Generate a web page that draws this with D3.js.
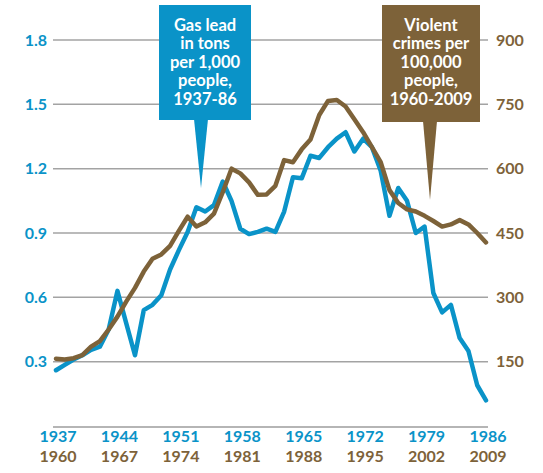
<!DOCTYPE html>
<html>
<head>
<meta charset="utf-8">
<script src="https://cdn.jsdelivr.net/npm/d3@7"></script>
<style>
  body { margin: 0; background: #fff; }
  svg { display: block; }
  text { font-family: Lato, "Open Sans", sans-serif; font-weight: bold; }
</style>
</head>
<body>
<svg></svg>
<script>
const wSvg = 543, hSvg = 473;

// gas lead, tons per 1,000 people, 1937-86
const leadYears = d3.range(1937, 1987);
const leadValues = [
    0.26, 0.285, 0.31, 0.33, 0.355, 0.37, 0.45, 0.63, 0.48, 0.33,
    0.54, 0.565, 0.61, 0.73, 0.82, 0.905, 1.02, 1.0, 1.03, 1.14,
    1.05, 0.92, 0.895, 0.905, 0.92, 0.905, 1.0, 1.16, 1.155, 1.26,
    1.25, 1.30, 1.34, 1.37, 1.28, 1.34, 1.30, 1.19, 0.98, 1.11,
    1.05, 0.90, 0.93, 0.62, 0.53, 0.565, 0.41, 0.35, 0.19, 0.12
];

// violent crimes per 100,000 people, 1960-2009
const crimeYears = d3.range(1960, 2010);
const crimeValues = [
    157, 155, 158, 165, 185, 198, 225, 255, 290, 322,
    360, 390, 400, 420, 455, 488, 465, 475, 495, 545,
    600, 589, 568, 539, 540, 560, 620, 615, 645, 668,
    725, 758, 760, 745, 715, 685, 650, 615, 550, 520,
    505, 500, 490, 478, 465, 470, 480, 470, 450, 428
];

const leadTicks = [0.3, 0.6, 0.9, 1.2, 1.5, 1.8];
const crimeTicks = [150, 300, 450, 600, 750, 900];
const leadYearTicks = [1937, 1944, 1951, 1958, 1965, 1972, 1979, 1986];
const crimeYearTicks = [1960, 1967, 1974, 1981, 1988, 1995, 2002, 2009];

const leadLabel = ["Gas lead", "in tons", "per 1,000", "people,", "1937-86"];
const crimeLabel = ["Violent", "crimes per", "100,000", "people,", "1960-2009"];

const blue = "#0a93c8", brown = "#7d6239", grid = "#a3a3a3";

const svg = d3.select("svg")
    .attr("width", wSvg)
    .attr("height", hSvg)
;

const xLead = d3.scaleLinear().domain([1937, 1986]).range([56, 486]);
const xCrime = d3.scaleLinear().domain([1960, 2009]).range([56, 486]);
const yLead = d3.scaleLinear().domain([0, 1.8]).range([426, 40]);
const yCrime = d3.scaleLinear().domain([0, 900]).range([426, 40]);

const gridLeft = 53, gridRight = 488;

// gridlines
svg.append("g")
    .selectAll("line")
    .data(leadTicks)
    .enter()
    .append("line")
    .attr("x1", gridLeft)
    .attr("x2", gridRight)
    .attr("y1", d => yLead(d))
    .attr("y2", d => yLead(d))
    .attr("stroke", grid)
    .attr("stroke-width", 1.5)
;

// bottom base line
svg.append("line")
    .attr("x1", gridLeft)
    .attr("x2", gridRight)
    .attr("y1", yLead(0) + 1)
    .attr("y2", yLead(0) + 1)
    .attr("stroke", "#b5b5b5")
    .attr("stroke-width", 2)
;

function styleText(sel, color) {
    sel.selectAll("text")
        .attr("fill", color)
        .attr("font-size", 16)
        .attr("font-family", "Lato, sans-serif")
        .attr("font-weight", "bold");
}

// left axis
const leftAxis = svg.append("g")
    .attr("transform", "translate(47,0)")
    .call(d3.axisLeft(yLead).tickValues(leadTicks).tickSize(0).tickPadding(0).tickFormat(d3.format(".1f")));
leftAxis.select(".domain").remove();
styleText(leftAxis, blue);

// right axis
const rightAxis = svg.append("g")
    .attr("transform", "translate(496,0)")
    .call(d3.axisRight(yCrime).tickValues(crimeTicks).tickSize(0).tickPadding(0));
rightAxis.select(".domain").remove();
styleText(rightAxis, brown);

// bottom axes (two rows of years)
const bottomLead = svg.append("g")
    .attr("transform", "translate(1.5,431)")
    .call(d3.axisBottom(xLead).tickValues(leadYearTicks).tickSize(0).tickPadding(0).tickFormat(d3.format("d")));
bottomLead.select(".domain").remove();
styleText(bottomLead, blue);

const bottomCrime = svg.append("g")
    .attr("transform", "translate(1.5,451)")
    .call(d3.axisBottom(xCrime).tickValues(crimeYearTicks).tickSize(0).tickPadding(0).tickFormat(d3.format("d")));
bottomCrime.select(".domain").remove();
styleText(bottomCrime, brown);

// callouts
function callout(lines, color, x0, x1, top, bottom, tipX, tipY) {
    const g = svg.append("g");
    g.append("rect")
        .attr("x", x0).attr("y", top)
        .attr("width", x1 - x0).attr("height", bottom - top)
        .attr("fill", color);
    g.append("path")
        .attr("d", `M${tipX - 7},${bottom - 1} L${tipX + 7},${bottom - 1} L${tipX},${tipY} Z`)
        .attr("fill", color);
    g.selectAll("text")
        .data(lines)
        .enter()
        .append("text")
        .attr("x", (x0 + x1) / 2)
        .attr("y", (d, i) => top + 20 + i * 18.5)
        .attr("dy", "0.35em")
        .attr("text-anchor", "middle")
        .attr("fill", "#fff")
        .attr("font-size", 16.5)
        .text(d => d);
}

callout(leadLabel, blue, 159, 251, 5, 120, 201, 188);
callout(crimeLabel, brown, 382, 480, 5, 122, 430, 200);

// lines
const leadLine = d3.line()
    .x((d, i) => xLead(leadYears[i]))
    .y(d => yLead(d));

const crimeLine = d3.line()
    .x((d, i) => xCrime(crimeYears[i]))
    .y(d => yCrime(d));

svg.append("path")
    .datum(leadValues)
    .attr("d", leadLine)
    .attr("fill", "none")
    .attr("stroke", blue)
    .attr("stroke-width", 4.5)
    .attr("stroke-linejoin", "round")
    .attr("stroke-linecap", "round")
;

svg.append("path")
    .datum(crimeValues)
    .attr("d", crimeLine)
    .attr("fill", "none")
    .attr("stroke", brown)
    .attr("stroke-width", 4.5)
    .attr("stroke-linejoin", "round")
    .attr("stroke-linecap", "round")
;
</script>
</body>
</html>
